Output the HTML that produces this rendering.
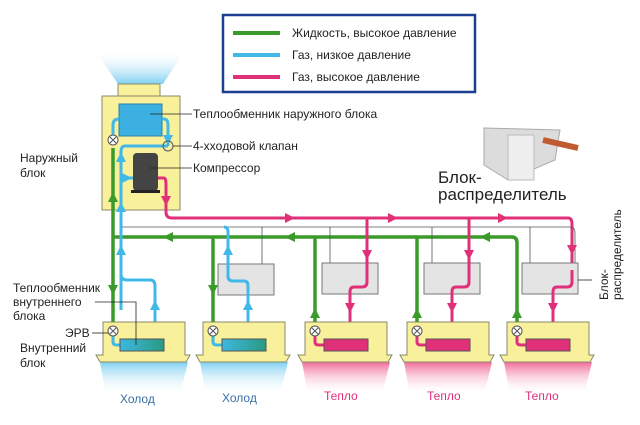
<!DOCTYPE html>
<html><head><meta charset="utf-8"><style>
body{margin:0;background:#fff}
svg{display:block;font-family:"Liberation Sans",sans-serif}
</style></head><body>
<svg width="640" height="425" viewBox="0 0 640 425" xmlns="http://www.w3.org/2000/svg">
<defs>
<linearGradient id="cold" x1="0" y1="0" x2="0" y2="1"><stop offset="0" stop-color="#7fd0f0"/><stop offset="1" stop-color="#fff" stop-opacity="0"/></linearGradient>
<linearGradient id="coldup" x1="0" y1="1" x2="0" y2="0"><stop offset="0" stop-color="#7fd0f0"/><stop offset="1" stop-color="#fff" stop-opacity="0"/></linearGradient>
<linearGradient id="warm" x1="0" y1="0" x2="0" y2="1"><stop offset="0" stop-color="#f06a98"/><stop offset="1" stop-color="#fff" stop-opacity="0"/></linearGradient>
<linearGradient id="coil" x1="0" x2="1"><stop offset="0" stop-color="#3cb8e0"/><stop offset="1" stop-color="#2a9a80"/></linearGradient>
</defs>

<rect x="223" y="15" width="252" height="77" fill="#fff" stroke="#1d3f8f" stroke-width="2.5"/>
<line x1="233" y1="33" x2="280" y2="33" stroke="#3a9a2a" stroke-width="4"/>
<line x1="233" y1="55" x2="280" y2="55" stroke="#40b8e8" stroke-width="4"/>
<line x1="233" y1="77" x2="280" y2="77" stroke="#e0307a" stroke-width="4"/>
<g font-size="12" fill="#222">
<text x="292" y="37">Жидкость, высокое давление</text>
<text x="292" y="59">Газ, низкое давление</text>
<text x="292" y="81">Газ, высокое давление</text>
</g>

<path d="M95,50 L185,50 L163,84 L118,84 Z" fill="url(#coldup)"/>
<rect x="118" y="84" width="42" height="14" fill="#f8f09a" stroke="#8a8a6a"/>
<rect x="102" y="96" width="78" height="114" fill="#f8f09a" stroke="#8a8a6a"/>
<rect x="119" y="104" width="43" height="32" fill="#3cb0e0" stroke="#2a7fa8"/>
<rect x="133" y="153" width="25" height="38" rx="4" fill="#444"/>
<rect x="131" y="190" width="29" height="3" fill="#222"/>

<g fill="none" stroke-linejoin="round">
<path d="M113,140 V125 Q113,119 119,119" stroke="#40b8e8" stroke-width="3"/>
<path d="M162,119 H164 Q168,119 168,125 V146" stroke="#40b8e8" stroke-width="3"/>
<path d="M168,146 H125 Q121,146 121,152 V310" stroke="#40b8e8" stroke-width="3"/>
<path d="M121,178 H133" stroke="#40b8e8" stroke-width="3"/>
<path d="M158,178 H164 Q166,178 166,184 V212 Q166,218 172,218 H568 Q572,218 572,224 V270" stroke="#e0307a" stroke-width="3"/>
<path d="M113,148 V300 M113,237 H512 Q517,237 517,243 V322" stroke="#3a9a2a" stroke-width="3.5"/>
<path d="M213,237 V322 M315,237 V322 M417,237 V322" stroke="#3a9a2a" stroke-width="3.5"/>
<path d="M113,300 V322" stroke="#3a9a2a" stroke-width="3.5"/>
<path d="M121,227 H570 Q575,227 575,233 V270 M262,227 V270 M330,227 V280 M432,227 V280 M530,227 V280" stroke="#555" stroke-width="0.8"/>
</g>

<g fill="#e4e4e4" stroke="#777">
<rect x="218" y="264" width="56" height="31"/>
<rect x="322" y="263" width="56" height="31"/>
<rect x="424" y="263" width="56" height="31"/>
<rect x="522" y="263" width="56" height="31"/>
</g>

<g fill="none" stroke-linejoin="round" stroke-width="3">
<path d="M121,227 V274 Q121,280 127,280 H150 Q155,280 155,286 V328 Q155,333 159,333 H164 Q168,333 168,338 V345" stroke="#40b8e8"/>
<path d="M224,227 Q228,227 228,232 V276 Q228,281 233,281 H244 Q248,281 248,286 V328 Q248,333 252,333 H262 Q266,333 266,338 V345" stroke="#40b8e8"/>
<path d="M367,218 V282 Q367,287 362,287 H354 Q350,287 350,292 V330 Q350,334 354,334 H368 Q372,334 372,339 V345" stroke="#e0307a"/>
<path d="M469,218 V282 Q469,287 464,287 H456 Q452,287 452,292 V330 Q452,334 456,334 H470 Q474,334 474,339 V345" stroke="#e0307a"/>
<path d="M572,270 V282 Q572,287 567,287 H557 Q553,287 553,292 V330 Q553,334 557,334 H571 Q575,334 575,339 V345" stroke="#e0307a"/>
</g>

<g>
<path d="M116,212 L121,202 L126,212Z M116,162 L121,152 L126,162Z M122,173 L132,178 L122,183Z M163,135 L168,145 L173,135Z" fill="#40b8e8"/>
<path d="M108,202 L113,192 L118,202Z" fill="#3a9a2a"/>
<path d="M161,196 L166,206 L171,196Z" fill="#e0307a"/>
<path d="M285,213 L295,218 L285,223Z M388,213 L398,218 L388,223Z M498,213 L508,218 L498,223Z" fill="#e0307a"/>
<path d="M490,232 L480,237 L490,242Z M295,232 L285,237 L295,242Z M173,232 L163,237 L173,242Z" fill="#3a9a2a"/>
<path d="M108,285 L113,295 L118,285Z M208,285 L213,295 L218,285Z M310,318 L315,308 L320,318Z M412,318 L417,308 L422,318Z M512,318 L517,308 L522,318Z" fill="#3a9a2a"/>
<path d="M116,255 L121,245 L126,255Z M150,310 L155,300 L160,310Z M223,255 L228,245 L233,255Z M243,310 L248,300 L253,310Z" fill="#40b8e8"/>
<path d="M362,250 L367,260 L372,250Z M345,303 L350,313 L355,303Z M464,250 L469,260 L474,250Z M447,303 L452,313 L457,303Z M567,245 L572,255 L577,245Z M548,303 L553,313 L558,303Z" fill="#e0307a"/>
</g>

<path d="M100,362 L188,362 L180,395 L106,395Z" fill="url(#cold)"/>
<path d="M200,362 L288,362 L280,395 L206,395Z" fill="url(#cold)"/>
<path d="M302,362 L390,362 L382,395 L308,395Z" fill="url(#warm)"/>
<path d="M404,362 L492,362 L484,395 L410,395Z" fill="url(#warm)"/>
<path d="M504,362 L592,362 L584,395 L510,395Z" fill="url(#warm)"/>
<g fill="#f8f09a" stroke="#8a8a6a">
<path d="M103,322 H185 V355 H190 L186,362 H100 L96,355 H103Z"/>
<path d="M203,322 H285 V355 H290 L286,362 H200 L196,355 H203Z"/>
<path d="M305,322 H387 V355 H392 L388,362 H302 L298,355 H305Z"/>
<path d="M407,322 H489 V355 H494 L490,362 H404 L400,355 H407Z"/>
<path d="M507,322 H589 V355 H594 L590,362 H504 L500,355 H507Z"/>
</g>
<g fill="none" stroke-width="3">
<path d="M113,336 V342 Q113,345 117,345 H120" stroke="#40b8e8"/>
<path d="M213,336 V342 Q213,345 217,345 H222" stroke="#40b8e8"/>
<path d="M315,336 V342 Q315,345 319,345 H324" stroke="#e0307a"/>
<path d="M417,336 V342 Q417,345 421,345 H426" stroke="#e0307a"/>
<path d="M517,336 V342 Q517,345 521,345 H526" stroke="#e0307a"/>
</g>
<g stroke="#555">
<rect x="120" y="339" width="44" height="12" fill="url(#coil)"/>
<rect x="222" y="339" width="44" height="12" fill="url(#coil)"/>
<rect x="324" y="339" width="44" height="12" fill="#e0307a"/>
<rect x="426" y="339" width="44" height="12" fill="#e0307a"/>
<rect x="526" y="339" width="44" height="12" fill="#e0307a"/>
</g>
<g fill="#fff" stroke="#555" stroke-width="1">
<circle cx="113" cy="140" r="5"/><circle cx="113" cy="331" r="5"/><circle cx="213" cy="331" r="5"/><circle cx="315" cy="331" r="5"/><circle cx="417" cy="331" r="5"/><circle cx="517" cy="331" r="5"/>
<circle cx="168" cy="146" r="5" fill="none"/>
</g>
<g stroke="#555" stroke-width="1">
<path d="M110,137l6,6m0-6l-6,6 M110,328l6,6m0-6l-6,6 M210,328l6,6m0-6l-6,6 M312,328l6,6m0-6l-6,6 M414,328l6,6m0-6l-6,6 M514,328l6,6m0-6l-6,6"/>
</g>

<g stroke="#222" stroke-width="0.8">
<line x1="150" y1="114" x2="192" y2="114"/>
<line x1="173" y1="146" x2="192" y2="146"/>
<line x1="150" y1="168" x2="192" y2="168"/>
<path d="M95,302 H136 V345" fill="none"/>
<line x1="92" y1="333" x2="108" y2="333"/>
<line x1="578" y1="280" x2="592" y2="280"/>
</g>

<path d="M484,128 L560,130 L555,160 L508,180 L484,165Z" fill="#dcdcdc" stroke="#aaa"/>
<rect x="508" y="135" width="26" height="45" fill="#eee" stroke="#bbb"/>
<path d="M543,140 L578,148" stroke="#c05a30" stroke-width="6"/>

<g font-size="12" fill="#222">
<text x="193" y="118">Теплообменник наружного блока</text>
<text x="193" y="150">4-ххoдовой клапан</text>
<text x="193" y="172">Компрессор</text>
<text x="20" y="162">Наружный</text>
<text x="20" y="177">блок</text>
<text x="13" y="292">Теплообменник</text>
<text x="13" y="306">внутреннего</text>
<text x="13" y="320">блока</text>
<text x="65" y="337">ЭРВ</text>
<text x="20" y="352">Внутренний</text>
<text x="20" y="367">блок</text>
<text transform="translate(608,300) rotate(-90)">Блок-</text>
<text transform="translate(621,300) rotate(-90)">распределитель</text>
</g>
<g font-size="17" fill="#222">
<text x="438" y="183">Блок-</text>
<text x="438" y="200">распределитель</text>
</g>
<g font-size="12" fill="#3a6fa8">
<text x="120" y="403">Холод</text>
<text x="222" y="402">Холод</text>
</g>
<g font-size="12" fill="#e0307a">
<text x="324" y="400">Тепло</text>
<text x="427" y="400">Тепло</text>
<text x="525" y="400">Тепло</text>
</g>
</svg>
</body></html>
